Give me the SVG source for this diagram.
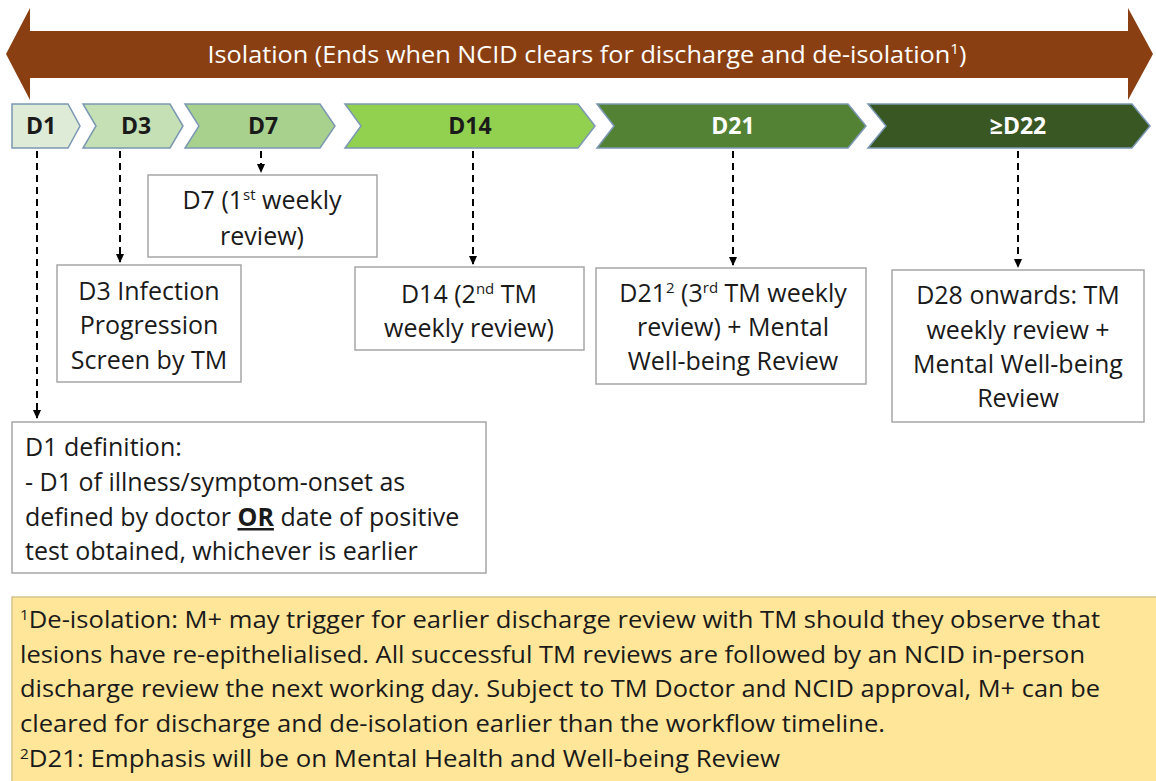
<svg xmlns="http://www.w3.org/2000/svg" width="1156" height="781" viewBox="0 0 1156 781">
<style>
.chev{stroke:#7b98b3;stroke-width:1.5}
.lbl{font-family:"Open Sans","Liberation Sans",sans-serif;font-weight:bold;font-size:23px;text-anchor:middle}
.box{fill:#fff;stroke:#a6a6a6;stroke-width:1.5}
.bt{font-family:"Open Sans","Liberation Sans",sans-serif;font-size:25px;fill:#1a1a1a;text-anchor:middle}
.lt{font-family:"Open Sans","Liberation Sans",sans-serif;font-size:25px;fill:#1a1a1a}
.fn{font-family:"Open Sans","Liberation Sans",sans-serif;font-size:23.5px;fill:#1a1a1a}
.con{fill:none;stroke:#000;stroke-width:2;stroke-dasharray:7,5}
</style>
<defs>
<marker id="ah" markerWidth="10" markerHeight="10" refX="8" refY="5" orient="auto" markerUnits="userSpaceOnUse">
<path d="M0,1 L9,5 L0,9 Z" fill="#000"/>
</marker>
</defs>
<rect width="1156" height="781" fill="#fff"/>
<g id="isolation">
<polygon points="6,54 30,8 30,31 1128,31 1128,8 1153,54 1128,100 1128,78 30,78 30,100" fill="#8a3f12"/>
<text x="587" y="63" font-family="Open Sans, Liberation Sans, sans-serif" font-size="23" fill="#fff" text-anchor="middle" textLength="759" lengthAdjust="spacingAndGlyphs">Isolation (Ends when NCID clears for discharge and de-isolation<tspan dy="-9" font-size="14">1</tspan><tspan dy="9">)</tspan></text>
</g>
<g id="d1">
<polygon class="chev" points="12,104 68,104 80,126 68,148 12,148" fill="#deebd6"/>
<text class="lbl" x="41" y="134" fill="#1a1a1a">D1</text>
</g>
<g id="d3">
<polygon class="chev" points="83,104 170,104 183,126 170,148 83,148 96,126" fill="#c5e0b4"/>
<text class="lbl" x="136" y="134" fill="#1a1a1a">D3</text>
</g>
<g id="d7">
<polygon class="chev" points="185,104 320,104 335,126 320,148 185,148 199,126" fill="#a9d18e"/>
<text class="lbl" x="263" y="134" fill="#1a1a1a">D7</text>
</g>
<g id="d14">
<polygon class="chev" points="345,104 578,104 595,126 578,148 345,148 361,126" fill="#92d050"/>
<text class="lbl" x="470" y="134" fill="#1a1a1a">D14</text>
</g>
<g id="d21">
<polygon class="chev" points="597,104 848,104 866,126 848,148 597,148 614,126" fill="#548235"/>
<text class="lbl" x="733" y="134" fill="#fff">D21</text>
</g>
<g id="d22">
<polygon class="chev" points="868,104 1132,104 1150,126 1132,148 868,148 886,126" fill="#385723"/>
<text class="lbl" x="1018" y="134" fill="#fff">≥D22</text>
</g>
<g id="connectors">
<line class="con" x1="37" y1="151" x2="37" y2="418" marker-end="url(#ah)"/>
<line class="con" x1="120" y1="151" x2="120" y2="262" marker-end="url(#ah)"/>
<line class="con" x1="261" y1="151" x2="261" y2="172" marker-end="url(#ah)"/>
<line class="con" x1="473" y1="151" x2="473" y2="264" marker-end="url(#ah)"/>
<line class="con" x1="733" y1="151" x2="733" y2="265" marker-end="url(#ah)"/>
<line class="con" x1="1018" y1="151" x2="1018" y2="267" marker-end="url(#ah)"/>
</g>
<g id="box-d7">
<rect class="box" x="148" y="175" width="229" height="82"/>
<text class="bt" x="262" y="209">D7 (1<tspan dy="-9" font-size="15">st</tspan><tspan dy="9"> weekly</tspan></text>
<text class="bt" x="262" y="245">review)</text>
</g>
<g id="box-d3">
<rect class="box" x="57" y="265" width="184" height="117"/>
<text class="bt" x="149" y="300">D3 Infection</text>
<text class="bt" x="149" y="334">Progression</text>
<text class="bt" x="149" y="369">Screen by TM</text>
</g>
<g id="box-d14">
<rect class="box" x="355" y="267" width="229" height="83"/>
<text class="bt" x="469" y="303">D14 (2<tspan dy="-9" font-size="15">nd</tspan><tspan dy="9"> TM</tspan></text>
<text class="bt" x="469" y="337">weekly review)</text>
</g>
<g id="box-d21">
<rect class="box" x="596" y="268" width="270" height="116"/>
<text class="bt" x="733" y="302">D21<tspan dy="-9" font-size="15">2</tspan><tspan dy="9"> (3</tspan><tspan dy="-9" font-size="15">rd</tspan><tspan dy="9"> TM weekly</tspan></text>
<text class="bt" x="733" y="336">review) + Mental</text>
<text class="bt" x="733" y="370">Well-being Review</text>
</g>
<g id="box-d28">
<rect class="box" x="892" y="270" width="252" height="152"/>
<text class="bt" x="1018" y="304">D28 onwards: TM</text>
<text class="bt" x="1018" y="339">weekly review +</text>
<text class="bt" x="1018" y="373">Mental Well-being</text>
<text class="bt" x="1018" y="407">Review</text>
</g>
<g id="box-d1">
<rect class="box" x="12" y="422" width="474" height="151"/>
<text class="lt" x="25" y="456">D1 definition:</text>
<text class="lt" x="25" y="491">- D1 of illness/symptom-onset as</text>
<text class="lt" x="25" y="526">defined by doctor <tspan font-weight="bold" text-decoration="underline">OR</tspan> date of positive</text>
<text class="lt" x="25" y="560">test obtained, whichever is earlier</text>
</g>
<g id="footnote">
<rect x="12" y="597" width="1150" height="190" fill="#ffe699" stroke="#d6c48a" stroke-width="1.5"/>
<text class="fn" x="20" y="628" textLength="1080" lengthAdjust="spacingAndGlyphs"><tspan dy="-8" font-size="14">1</tspan><tspan dy="8">De-isolation: M+ may trigger for earlier discharge review with TM should they observe that</tspan></text>
<text class="fn" x="20" y="663" textLength="1065" lengthAdjust="spacingAndGlyphs">lesions have re-epithelialised. All successful TM reviews are followed by an NCID in-person</text>
<text class="fn" x="20" y="697" textLength="1080" lengthAdjust="spacingAndGlyphs">discharge review the next working day. Subject to TM Doctor and NCID approval, M+ can be</text>
<text class="fn" x="20" y="732" textLength="865" lengthAdjust="spacingAndGlyphs">cleared for discharge and de-isolation earlier than the workflow timeline.</text>
<text class="fn" x="20" y="767" textLength="760" lengthAdjust="spacingAndGlyphs"><tspan dy="-8" font-size="14">2</tspan><tspan dy="8">D21: Emphasis will be on Mental Health and Well-being Review</tspan></text>
</g>
</svg>
